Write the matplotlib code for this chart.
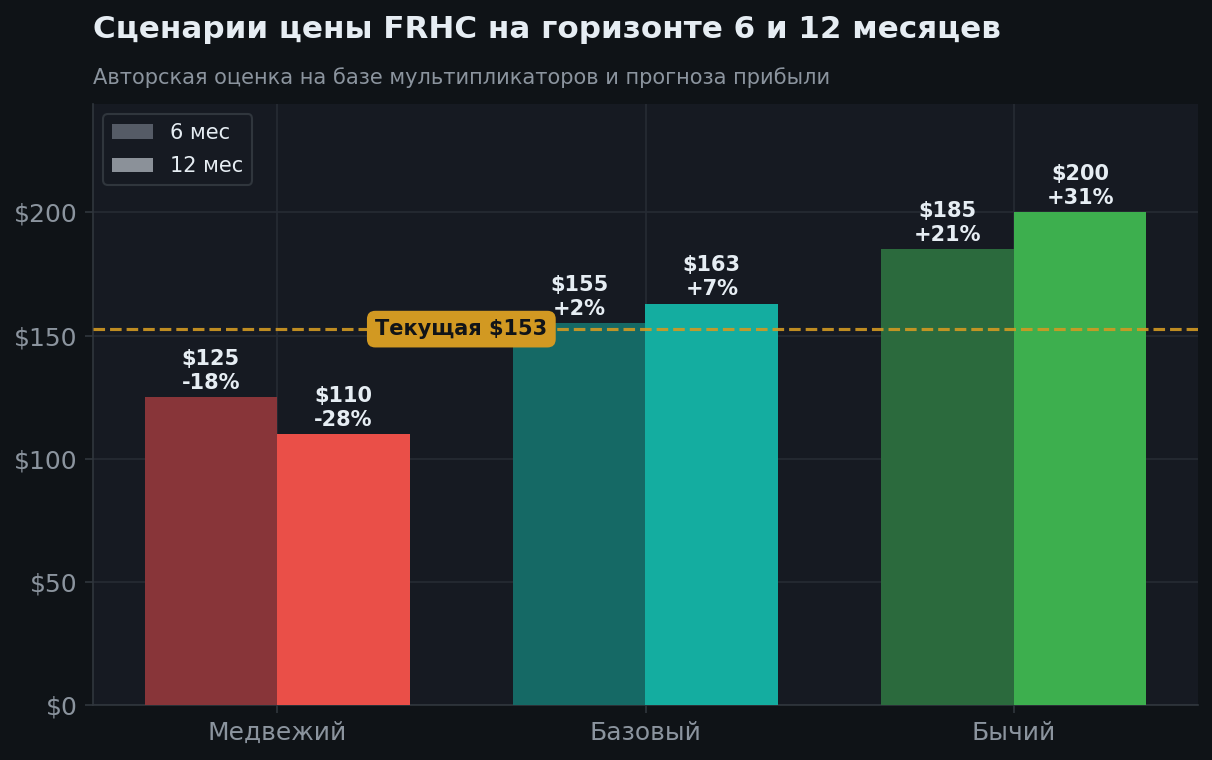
import numpy as np
import matplotlib
matplotlib.use("Agg")
import matplotlib.pyplot as plt
from matplotlib.patches import Patch

# данные сценариев
scenarios = ["Медвежий", "Базовый", "Бычий"]
price_6m = [125, 155, 185]
price_12m = [110, 163, 200]
current_price = 152.6

colors_6m = ["#883539", "#156965", "#2b6a3d"]
colors_12m = ["#ea4f48", "#14ada0", "#3daf4e"]

BG = "#0f1317"
AX_BG = "#161a22"
TEXT = "#e6edf3"
MUTED = "#8b949e"
GRID = "#262b34"

plt.rcParams['font.family'] = ['DejaVu Sans']

fig = plt.figure(figsize=(8.08, 5.0667), dpi=150, facecolor=BG)
ax = fig.add_axes([93 / 1212, 1 - 705 / 760, 1105 / 1212, 601 / 760])
ax.set_facecolor(AX_BG)

x = np.arange(len(scenarios))
width = 0.36

bars6 = ax.bar(x - width / 2, price_6m, width, color=colors_6m, zorder=3)
bars12 = ax.bar(x + width / 2, price_12m, width, color=colors_12m, zorder=3)

# подписи над столбцами
for bars, vals in [(bars6, price_6m), (bars12, price_12m)]:
    for b, v in zip(bars, vals):
        pct = (v / current_price - 1) * 100
        ax.annotate(f"${v}\n{pct:+.0f}%", (b.get_x() + b.get_width() / 2, v),
                    xytext=(0, 2), textcoords="offset points",
                    ha="center", va="bottom", fontsize=10, fontweight="bold",
                    color=TEXT, linespacing=1.25, zorder=5)

# текущая цена
ax.axhline(current_price, color="#d29922", linestyle="--", linewidth=1.5,
           alpha=0.9, zorder=4)
ax.text(0.5, current_price, f"Текущая ${current_price:.0f}", ha="center", va="center",
        fontsize=10, fontweight="bold", color="#111418", zorder=6,
        bbox=dict(boxstyle="round,pad=0.4", facecolor="#d29922", edgecolor="none"))

ax.set_xlim(-0.5, 2.5)
ax.set_ylim(0, 244)
ax.set_xticks(x)
ax.set_xticklabels(scenarios)
ax.set_yticks([0, 50, 100, 150, 200])
ax.set_yticklabels([f"${t}" for t in [0, 50, 100, 150, 200]])
ax.tick_params(labelsize=12, length=4)
ax.tick_params(axis="x", colors="#30363d", labelcolor=MUTED)
ax.tick_params(axis="y", colors="#30363d", labelcolor=MUTED)
ax.grid(True, color=GRID, linewidth=0.8, zorder=0)
for s in ["top", "right"]:
    ax.spines[s].set_visible(False)
for s in ["left", "bottom"]:
    ax.spines[s].set_color("#30363d")

handles = [Patch(facecolor="#555b66", label="6 мес"),
           Patch(facecolor="#8b9199", label="12 мес")]
leg = ax.legend(handles=handles, loc="upper left", fontsize=10,
                facecolor=AX_BG, edgecolor="#30363d", labelcolor=TEXT,
                framealpha=1, labelspacing=0.65)

fig.text(93 / 1212, 1 - 29 / 760, "Сценарии цены FRHC на горизонте 6 и 12 месяцев",
         fontsize=14.9, fontweight="bold", color=TEXT, va="center", ha="left")
fig.text(93 / 1212, 1 - 78 / 760, "Авторская оценка на базе мультипликаторов и прогноза прибыли",
         fontsize=10.1, color=MUTED, va="center", ha="left")

fig.savefig("out.png", dpi=150, facecolor=BG)
